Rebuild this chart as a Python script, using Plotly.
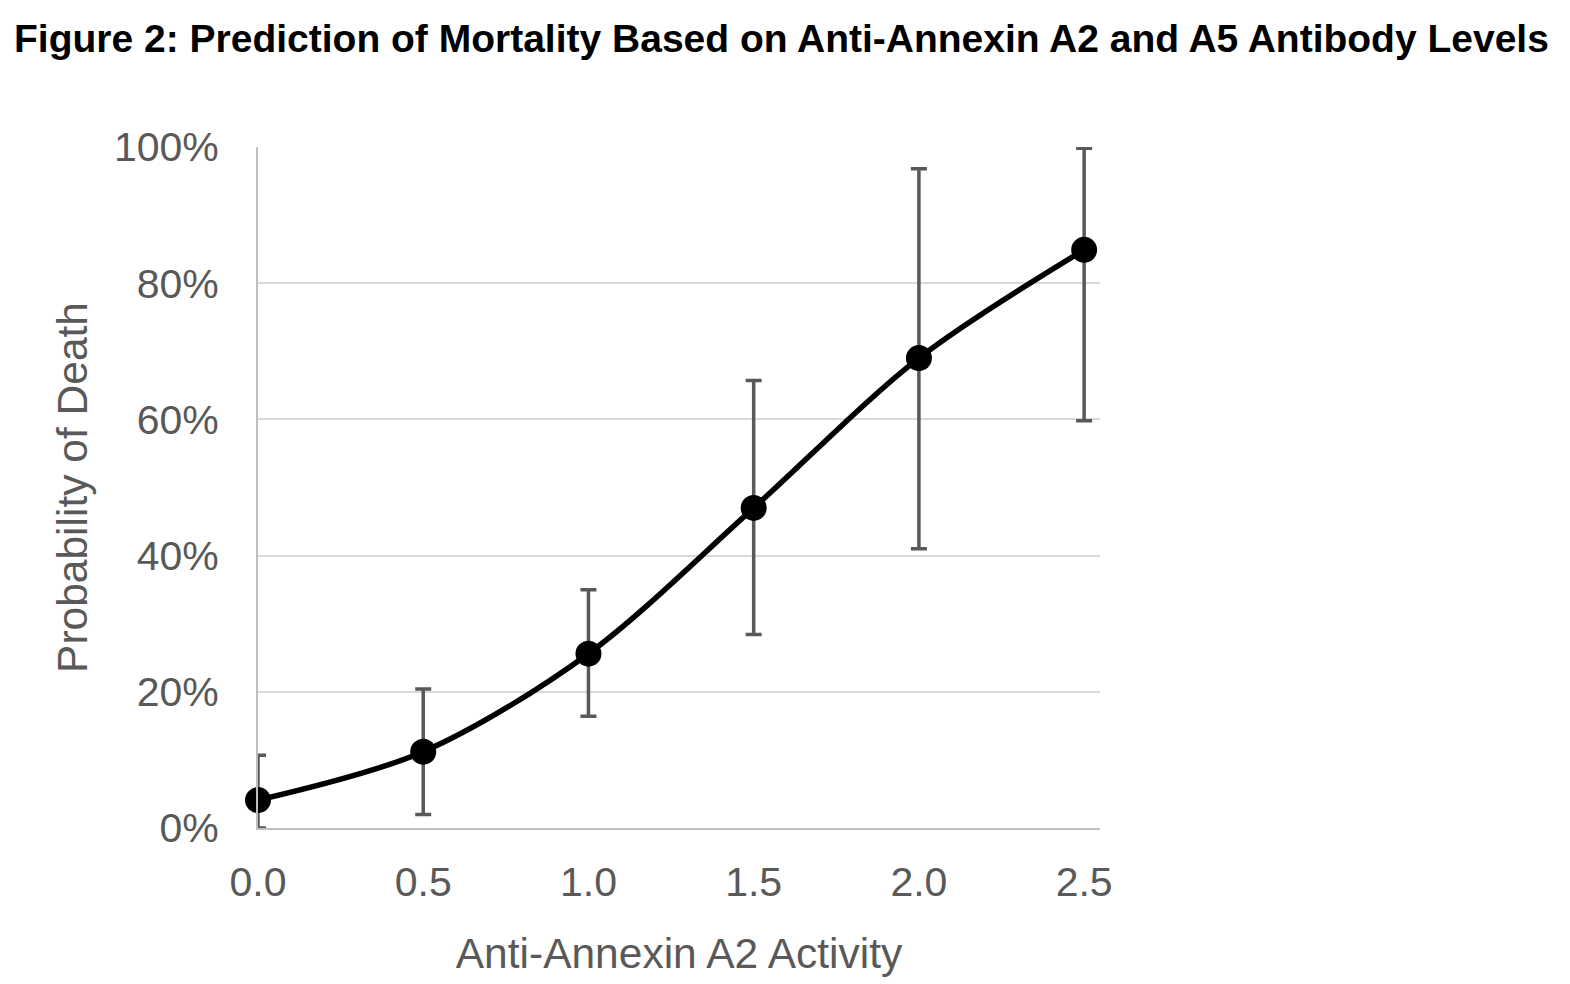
import plotly.graph_objects as go

activity = [0.0, 0.5, 1.0, 1.5, 2.0, 2.5]
prob_death = [0.041, 0.112, 0.256, 0.470, 0.690, 0.849]
ci_upper = [0.107, 0.204, 0.350, 0.657, 0.968, 0.998]
ci_lower = [0.000, 0.020, 0.164, 0.284, 0.410, 0.598]
x_ticks = [0.0, 0.5, 1.0, 1.5, 2.0, 2.5]
y_ticks = [0, 0.2, 0.4, 0.6, 0.8, 1.0]

err_plus = [u - y for u, y in zip(ci_upper, prob_death)]
err_minus = [y - l for y, l in zip(prob_death, ci_lower)]

gray = "#595959"
font_family = "Liberation Sans, Arial, Helvetica, sans-serif"

L, T, W, H = 250, 139, 842, 681

fig = go.Figure()
fig.add_trace(go.Scatter(
    x=activity, y=prob_death,
    mode="lines+markers",
    line=dict(color="black", width=5.5, shape="spline", smoothing=0.9),
    marker=dict(color="black", size=26),
    error_y=dict(type="data", symmetric=False, array=err_plus, arrayminus=err_minus,
                 color=gray, thickness=3.5, width=8),
    cliponaxis=False,
    showlegend=False,
))

fig.update_layout(
    width=1570, height=984,
    paper_bgcolor="white", plot_bgcolor="white",
    margin=dict(l=L, r=1570 - L - W, t=T, b=984 - T - H),
    font=dict(family=font_family, color=gray),
    xaxis=dict(
        range=[0, 2.548], tickvals=x_ticks, tickformat=".1f",
        tickfont=dict(size=41, color=gray),
        showgrid=False, zeroline=False,
        showline=True, linecolor="#bfbfbf", linewidth=2,
        ticks="", ticklabelstandoff=17,
        title=dict(text="Anti-Annexin A2 Activity", font=dict(size=42.5, color=gray), standoff=34),
    ),
    yaxis=dict(
        range=[0, 1.0], tickvals=y_ticks, tickformat=".0%",
        tickfont=dict(size=41, color=gray),
        showgrid=True, gridcolor="#d9d9d9", gridwidth=2,
        zeroline=False, showline=True, linecolor="#bfbfbf", linewidth=2,
        ticks="", ticklabelstandoff=29,
        title=dict(text="Probability of Death", font=dict(size=42.5, color=gray), standoff=13),
    ),
    annotations=[dict(
        text="<b>Figure 2: Prediction of Mortality Based on Anti-Annexin A2 and A5 Antibody Levels</b>",
        xref="paper", yref="paper", x=(4 - L) / W, y=1 + (T - 30) / H,
        xanchor="left", yanchor="middle", showarrow=False,
        font=dict(family="Liberation Sans, Arial, sans-serif", size=39, color="black"),
    )],
)

fig.write_html("out.html")
